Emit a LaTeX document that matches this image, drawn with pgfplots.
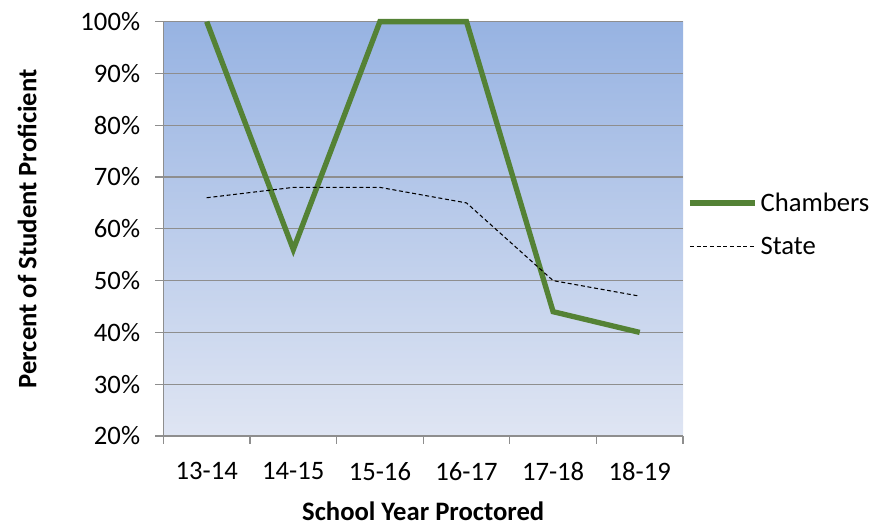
\documentclass[border=0pt]{standalone}
\usepackage{fontspec}
\setmainfont{Carlito}
\usepackage{pgfplots}
\pgfplotsset{compat=1.18}
\definecolor{cGreen}{HTML}{548235}
\definecolor{cTop}{HTML}{97B3E2}
\definecolor{cBot}{HTML}{DFE5F3}
\definecolor{cGrid}{HTML}{8E8E8E}

\begin{document}
\begin{tikzpicture}
\begin{axis}[
  width=390pt, height=311pt, scale only axis,
  font=\fontsize{20}{24}\selectfont,
  /pgf/number format/assume math mode=true,
  axis background/.style={top color=cTop, bottom color=cBot},
  xmin=-0.5, xmax=5.5, ymin=20, ymax=100,
  xtick={0,...,5},
  xticklabels={13-14,14-15,15-16,16-17,17-18,18-19},
  minor xtick={-0.5,0.5,...,5.5},
  major x tick style={draw=none},
  ytick={20,30,...,100},
  yticklabel={\pgfmathprintnumber{\tick}\%},
  axis x line*=bottom, axis y line*=left,
  axis line style={cGrid, line width=0.9pt},
  tick style={cGrid, line width=0.9pt},
  tick align=outside, major tick length=6pt, minor tick length=6pt,
  ymajorgrids, grid style={cGrid, line width=0.9pt},
  yticklabel style={xshift=-8pt},
  xticklabel style={yshift=-10pt},
  xlabel={\textbf{School Year Proctored}},
  ylabel={\textbf{Percent of Student Proficient}},
  xlabel style={yshift=-9pt},
  ylabel style={yshift=26pt},
  clip=false,
  legend style={at={(1.0,0.51)}, anchor=west, draw=none, fill=none,
    row sep=14pt, font=\fontsize{20}{24}\selectfont},
  legend cell align=left,
  legend image code/.code={\draw[#1] (0pt,0pt) -- (49pt,0pt);},
]
\addplot[cGreen, line width=4pt] coordinates {(0,100)(1,56)(2,100)(3,100)(4,44)(5,40)};
\addlegendentry{Chambers}
\addplot[black, densely dashed, line width=0.8pt] coordinates {(0,66)(1,68)(2,68)(3,65)(4,50)(5,47)};
\addlegendentry{State}
\end{axis}
\path (current bounding box.north west) ++(-10pt,6pt);
\path (current bounding box.south east) ++(0pt,-4pt);
\end{tikzpicture}
\end{document}
